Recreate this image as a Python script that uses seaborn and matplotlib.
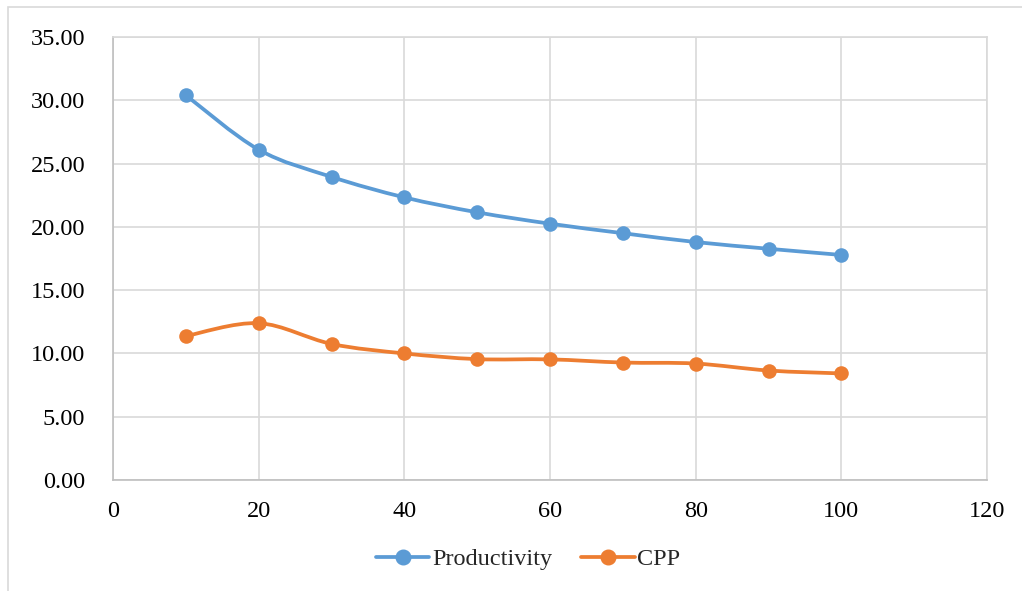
import numpy as np
import pandas as pd
import matplotlib
matplotlib.use("Agg")
import matplotlib.pyplot as plt
from matplotlib.path import Path
from matplotlib.patches import PathPatch, Rectangle
from matplotlib.lines import Line2D
from matplotlib.ticker import FormatStrFormatter, MultipleLocator
import seaborn as sns

# ---- data ----
x_values = [10, 20, 30, 40, 50, 60, 70, 80, 90, 100]
productivity = [30.40, 26.10, 23.95, 22.33, 21.15, 20.25, 19.50, 18.80, 18.27, 17.78]
cpp = [11.37, 12.39, 10.75, 10.00, 9.55, 9.53, 9.28, 9.20, 8.65, 8.42]
series_names = ["Productivity", "CPP"]
series_colors = ["#5B9BD5", "#ED7D31"]

sns.set_theme(style="white")
plt.rcParams["font.family"] = ["Liberation Serif", "DejaVu Serif"]

df = pd.DataFrame({
    "x": x_values * 2,
    "y": productivity + cpp,
    "series": [series_names[0]] * len(x_values) + [series_names[1]] * len(x_values),
})

fig = plt.figure(figsize=(10.22, 5.91), dpi=100)
ax = fig.add_axes([113 / 1022, 1 - 480 / 591, (987 - 113) / 1022, (480 - 37) / 591])

# chart-area border
fig.patches.append(Rectangle((8 / 1022, -0.05), 1.2, 1 - 7 / 591 + 0.05, transform=fig.transFigure,
                             fill=False, edgecolor="#d9d9d9", linewidth=1.2, zorder=0))


def smooth_path(xs, ys):
    pts = np.column_stack([xs, ys]).astype(float)
    n = len(pts)
    verts = [pts[0]]
    codes = [Path.MOVETO]
    for i in range(n - 1):
        p0 = pts[i - 1] if i > 0 else pts[i]
        p1 = pts[i]
        p2 = pts[i + 1]
        p3 = pts[i + 2] if i + 2 < n else pts[i + 1]
        c1 = p1 + (p2 - p0) / 6.0
        c2 = p2 - (p3 - p1) / 6.0
        verts += [c1, c2, p2]
        codes += [Path.CURVE4] * 3
    return Path(verts, codes)


for k, (name, col) in enumerate(zip(series_names, series_colors)):
    sub = df[df["series"] == name]
    patch = PathPatch(smooth_path(sub["x"].values, sub["y"].values), fill=False,
                      edgecolor=col, linewidth=2.7, capstyle="round", joinstyle="round",
                      zorder=3 + 2 * k)
    ax.add_patch(patch)
    sns.scatterplot(data=sub, x="x", y="y", color=col, s=110, edgecolor=col, linewidth=0,
                    ax=ax, legend=False, zorder=4 + 2 * k)

ax.set_xlim(0, 120)
ax.set_ylim(0, 35)
ax.xaxis.set_major_locator(MultipleLocator(20))
ax.yaxis.set_major_locator(MultipleLocator(5))
ax.yaxis.set_major_formatter(FormatStrFormatter("%.2f"))
ax.set_xlabel("")
ax.set_ylabel("")

ax.grid(True, color="#d9d9d9", linewidth=1.2)
ax.set_axisbelow(True)
for side in ["top", "right"]:
    ax.spines[side].set_visible(True)
    ax.spines[side].set_color("#d9d9d9")
    ax.spines[side].set_linewidth(1.2)
for side in ["left", "bottom"]:
    ax.spines[side].set_color("#bfbfbf")
    ax.spines[side].set_linewidth(1.2)

ax.tick_params(axis="both", length=0, labelsize=17.5, colors="#000000")
ax.tick_params(axis="y", pad=20)
ax.tick_params(axis="x", pad=15)

handles = [Line2D([0], [0], color=c, linewidth=2.7, marker="o", markersize=10.5) for c in series_colors]
fig.legend(handles, series_names, loc="center", bbox_to_anchor=(528 / 1022, 1 - 559 / 591),
           ncol=2, frameon=False, fontsize=17.5, handlelength=2.2, handletextpad=0.1,
           columnspacing=1.2)

fig.savefig("out.png", dpi=100)
